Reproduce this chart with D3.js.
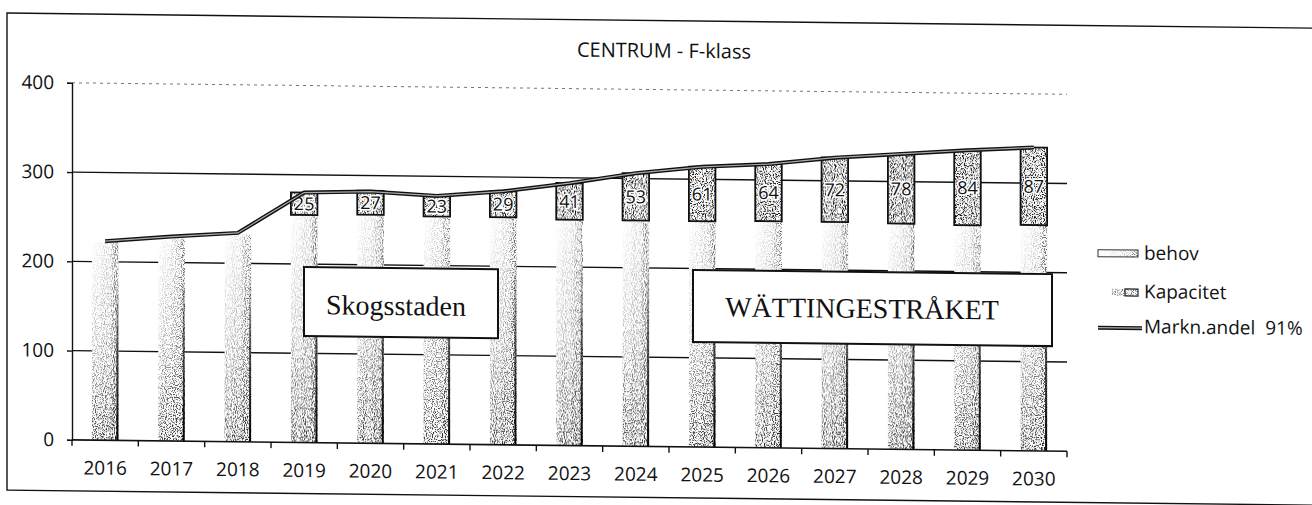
<!DOCTYPE html>
<html>
<head>
<meta charset="utf-8">
<script src="https://cdn.jsdelivr.net/npm/d3@7"></script>
<style>
  body { margin: 0; background: #fff; }
  text { font-family: "Open Sans", "Liberation Sans", sans-serif; fill: #111; }
</style>
</head>
<body>
<div id="chart"></div>
<script>
// data
var years = ["2016", "2017", "2018", "2019", "2020", "2021", "2022", "2023",
             "2024", "2025", "2026", "2027", "2028", "2029", "2030"];
var kapacitet = [222, 227, 232, 255, 256, 255, 255, 253, 253, 253, 254, 254, 253, 252, 253];
var behov = [0, 0, 0, 25, 27, 23, 29, 41, 53, 61, 64, 72, 78, 84, 87];
var markn = [223, 229, 234, 280, 282, 278, 284, 294, 306, 314, 318, 326, 331, 336, 340];
var yTicks = [0, 100, 200, 300, 400];
var legendNames = ["behov", "Kapacitet", "Markn.andel  91%"];

var svgWidth = 1312;
var svgHeight = 505;

var svg = d3.select("#chart")
  .append("svg")
  .attr("width", svgWidth)
  .attr("height", svgHeight);

var defs = svg.append("defs");

// speckle texture like the scanned fill
var spk = defs.append("filter").attr("id", "spk")
  .attr("x", 0).attr("y", 0).attr("width", 1).attr("height", 1);
spk.append("feTurbulence").attr("type", "fractalNoise")
  .attr("baseFrequency", 0.9).attr("numOctaves", 1).attr("seed", 4).attr("result", "n");
spk.append("feColorMatrix").attr("in", "n").attr("type", "matrix")
  .attr("values", "0 0 0 0 0  0 0 0 0 0  0 0 0 0 0  -6 0 0 0 3.1").attr("result", "d");
spk.append("feComposite").attr("in", "d").attr("in2", "SourceGraphic").attr("operator", "in");

var gV = defs.append("linearGradient").attr("id", "gV")
  .attr("x1", 0).attr("y1", 0).attr("x2", 0).attr("y2", 1);
gV.append("stop").attr("offset", "0%").attr("stop-color", "#000").attr("stop-opacity", 0);
gV.append("stop").attr("offset", "50%").attr("stop-color", "#000").attr("stop-opacity", 0.25);
gV.append("stop").attr("offset", "100%").attr("stop-color", "#000").attr("stop-opacity", 0.8);

var gH = defs.append("linearGradient").attr("id", "gH")
  .attr("x1", 0).attr("y1", 0).attr("x2", 1).attr("y2", 0);
gH.append("stop").attr("offset", "0%").attr("stop-color", "#000").attr("stop-opacity", 0);
gH.append("stop").attr("offset", "65%").attr("stop-color", "#000").attr("stop-opacity", 0.2);
gH.append("stop").attr("offset", "100%").attr("stop-color", "#000").attr("stop-opacity", 0.7);

var gEdge = defs.append("linearGradient").attr("id", "gEdge")
  .attr("x1", 0).attr("y1", 0).attr("x2", 0).attr("y2", 1);
gEdge.append("stop").attr("offset", "0%").attr("stop-color", "#000").attr("stop-opacity", 0.05);
gEdge.append("stop").attr("offset", "40%").attr("stop-color", "#000").attr("stop-opacity", 0.6);
gEdge.append("stop").attr("offset", "100%").attr("stop-color", "#000").attr("stop-opacity", 1);

// the scan is slightly skewed
var root = svg.append("g").attr("transform", "skewY(0.66)");

// outer frame
root.append("rect")
  .attr("x", 7).attr("y", 13)
  .attr("width", 1330).attr("height", 477)
  .attr("fill", "none").attr("stroke", "#111").attr("stroke-width", 1.4);

// scales
var x = d3.scaleBand().domain(years).range([72, 1067])
  .paddingInner(0.6).paddingOuter(0.3);
var step = x.step();
var y = d3.scaleLinear().domain([0, 400]).range([439, 82]);

// gridlines
root.append("g").selectAll("line")
  .data(yTicks.filter(d => d > 0))
  .enter().append("line")
  .attr("x1", 72).attr("x2", 1067)
  .attr("y1", d => y(d)).attr("y2", d => y(d))
  .attr("stroke", d => d === 400 ? "#777" : "#111")
  .attr("stroke-width", d => d === 400 ? 1 : 1.4)
  .attr("stroke-dasharray", d => d === 400 ? "3,4" : null);

// bottom bars
var bars = root.append("g");
years.forEach(function(yr, i) {
  var bx = x(yr), bw = x.bandwidth();
  var top = y(kapacitet[i]), h = y(0) - y(kapacitet[i]);
  bars.append("rect").attr("x", bx).attr("y", top).attr("width", bw).attr("height", h)
    .attr("fill", "#fff");
  bars.append("rect").attr("x", bx).attr("y", top).attr("width", bw).attr("height", h)
    .attr("fill", "url(#gV)").attr("filter", "url(#spk)");
  bars.append("rect").attr("x", bx).attr("y", top).attr("width", bw).attr("height", h)
    .attr("fill", "url(#gH)").attr("filter", "url(#spk)");
  bars.append("rect").attr("x", bx + bw - 2).attr("y", top + h * 0.2).attr("width", 2).attr("height", h * 0.8)
    .attr("fill", "url(#gEdge)");
});

// top segments with labels
var segs = root.append("g");
years.forEach(function(yr, i) {
  if (!behov[i]) return;
  var bx = x(yr), bw = x.bandwidth();
  var y0 = y(kapacitet[i]), y1 = y(kapacitet[i] + behov[i]);
  segs.append("rect").attr("x", bx).attr("y", y1).attr("width", bw).attr("height", y0 - y1)
    .attr("fill", "#fff");
  segs.append("rect").attr("x", bx).attr("y", y1).attr("width", bw).attr("height", y0 - y1)
    .attr("fill", "#000").attr("fill-opacity", 0.95).attr("filter", "url(#spk)");
  segs.append("rect").attr("x", bx).attr("y", y1).attr("width", bw).attr("height", y0 - y1)
    .attr("fill", "none").attr("stroke", "#111").attr("stroke-width", 1.8);
  segs.append("text")
    .attr("x", bx + bw / 2).attr("y", (y0 + y1) / 2)
    .attr("dy", "0.36em")
    .attr("text-anchor", "middle")
    .attr("font-size", "18px")
    .attr("stroke", "#fff").attr("stroke-width", 3).attr("paint-order", "stroke")
    .text(behov[i]);
});

// market share line
var line = d3.line()
  .x((d, i) => x(years[i]) + x.bandwidth() / 2)
  .y(d => y(d));
root.append("path").datum(markn)
  .attr("d", line).attr("fill", "none")
  .attr("stroke", "#111").attr("stroke-width", 4);
root.append("path").datum(markn)
  .attr("d", line).attr("fill", "none")
  .attr("stroke", "#aaa").attr("stroke-width", 1.2);

// y axis
var leftAxis = d3.axisLeft(y).tickValues(yTicks).tickSize(5).tickPadding(13);
var ya = root.append("g").attr("transform", "translate(72,0)").call(leftAxis);
ya.select(".domain").attr("stroke", "#111").attr("stroke-width", 1.4);
ya.selectAll(".tick line").attr("stroke", "#111").attr("stroke-width", 1.4);
ya.selectAll(".tick text").attr("font-size", "19px").attr("font-family", "Open Sans").attr("fill", "#111");

// x axis: baseline, boundary ticks, year labels
root.append("line").attr("x1", 72).attr("x2", 1067)
  .attr("y1", y(0)).attr("y2", y(0))
  .attr("stroke", "#111").attr("stroke-width", 1.6);
root.append("g").selectAll("line")
  .data(d3.range(years.length + 1))
  .enter().append("line")
  .attr("x1", i => 72 + i * step).attr("x2", i => 72 + i * step)
  .attr("y1", y(0)).attr("y2", y(0) + 6)
  .attr("stroke", "#111").attr("stroke-width", 1.4);
root.append("g").selectAll("text")
  .data(years)
  .enter().append("text")
  .attr("x", d => x(d) + x.bandwidth() / 2)
  .attr("y", 473.5)
  .attr("text-anchor", "middle")
  .attr("font-size", "19px")
  .text(d => d);

// title
root.append("text")
  .attr("x", 664).attr("y", 50)
  .attr("text-anchor", "middle")
  .attr("font-size", "20px")
  .text("CENTRUM - F-klass");

// area labels
function areaBox(x0, y0, w, h, label, tx, ty) {
  root.append("rect").attr("x", x0).attr("y", y0).attr("width", w).attr("height", h)
    .attr("fill", "#fff").attr("stroke", "#111").attr("stroke-width", 2);
  root.append("text").attr("x", tx).attr("y", ty)
    .attr("text-anchor", "middle")
    .style("font-family", "'Liberation Serif', serif")
    .attr("font-size", "28px")
    .text(label);
}
areaBox(304, 263.5, 194, 69, "Skogsstaden", 396, 310.5);
areaBox(693, 262, 359, 72, "WÄTTINGESTRÅKET", 862, 308);

// legend
var lg = root.append("g");
lg.append("rect").attr("x", 1098).attr("y", 237).attr("width", 40).attr("height", 7)
  .attr("fill", "url(#gH)").attr("filter", "url(#spk)");
lg.append("rect").attr("x", 1098).attr("y", 237).attr("width", 40).attr("height", 7)
  .attr("fill", "none").attr("stroke", "#333").attr("stroke-width", 1);
lg.append("rect").attr("x", 1112).attr("y", 276).attr("width", 26).attr("height", 7)
  .attr("fill", "#000").attr("fill-opacity", 0.6).attr("filter", "url(#spk)");
lg.append("rect").attr("x", 1125).attr("y", 276).attr("width", 13).attr("height", 7)
  .attr("fill", "none").attr("stroke", "#222").attr("stroke-width", 1.2);
lg.append("line").attr("x1", 1098).attr("x2", 1142).attr("y1", 315).attr("y2", 315)
  .attr("stroke", "#111").attr("stroke-width", 4);
lg.append("line").attr("x1", 1098).attr("x2", 1142).attr("y1", 315).attr("y2", 315)
  .attr("stroke", "#aaa").attr("stroke-width", 1.2);
lg.selectAll("text.lg")
  .data(legendNames)
  .enter().append("text")
  .attr("class", "lg")
  .attr("x", 1144)
  .attr("y", (d, i) => [246.5, 285, 320][i])
  .attr("font-size", "19px")
  .style("white-space", "pre")
  .text(d => d);
</script>
</body>
</html>
